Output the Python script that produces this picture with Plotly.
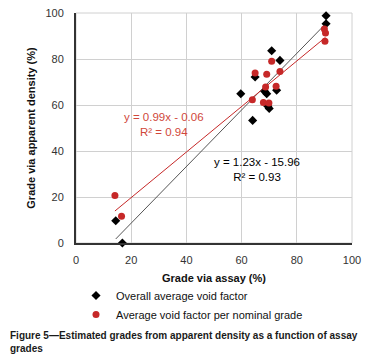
import plotly.graph_objects as go

# Overall average void factor (black diamonds)
black_x = [14.4, 16.8, 59.7, 64.0, 64.9, 68.4, 69.1, 69.5, 70.0, 70.9, 72.7, 73.9, 90.6, 90.6]
black_y = [9.7, 0.0, 64.9, 53.3, 72.2, 65.9, 64.9, 59.5, 58.5, 83.6, 66.4, 79.4, 98.8, 95.3]

# Average void factor per nominal grade (red circles)
red_x = [14.1, 16.5, 63.9, 64.9, 67.9, 68.7, 69.1, 69.9, 70.9, 72.5, 73.9, 90.0, 90.4, 90.2]
red_y = [20.7, 11.6, 62.3, 73.9, 61.1, 67.8, 73.4, 60.9, 79.0, 68.1, 74.6, 93.0, 91.3, 87.7]

# Trendline coefficients (slope, intercept) as printed on the chart
black_fit = (1.23, -15.96)
red_fit = (0.99, -0.06)
black_r2 = 0.93
red_r2 = 0.94

x_ticks = [0, 20, 40, 60, 80, 100]
y_ticks = [0, 20, 40, 60, 80, 100]

RED = "#C62828"
RED_TXT = "#D0473A"
FONT = "Liberation Sans"

fig = go.Figure()

def line_pts(xs, fit):
    x0, x1 = min(xs), max(xs)
    return [x0, x1], [fit[0] * x0 + fit[1], fit[0] * x1 + fit[1]]

bx, by = line_pts(black_x, black_fit)
rx, ry = line_pts(red_x, red_fit)

fig.add_trace(go.Scatter(x=bx, y=by, mode="lines", line=dict(color="#555555", width=1),
                         showlegend=False, hoverinfo="skip"))
fig.add_trace(go.Scatter(x=rx, y=ry, mode="lines", line=dict(color=RED, width=1),
                         showlegend=False, hoverinfo="skip"))

fig.add_trace(go.Scatter(x=black_x, y=black_y, mode="markers", name="Overall average void factor",
                         marker=dict(symbol="diamond", size=7, color="#000000"), cliponaxis=False))
fig.add_trace(go.Scatter(x=red_x, y=red_y, mode="markers", name="Average void factor per nominal grade",
                         marker=dict(symbol="circle", size=7, color=RED), cliponaxis=False))

fig.add_annotation(x=32, y=51.5, xref="x", yref="y", showarrow=False,
                   text=f"y = {red_fit[0]:.2f}x - {abs(red_fit[1]):.2f}<br>R² = {red_r2:.2f}",
                   font=dict(family=FONT, size=11.5, color=RED_TXT), align="center")
fig.add_annotation(x=65.5, y=32, xref="x", yref="y", showarrow=False,
                   text=f"y = {black_fit[0]:.2f}x - {abs(black_fit[1]):.2f}<br>R² = {black_r2:.2f}",
                   font=dict(family=FONT, size=11.5, color="#000000"), align="center")

fig.add_annotation(x=-0.2464, y=-0.37, xref="paper", yref="paper", xanchor="left", yanchor="top",
                   showarrow=False, align="left",
                   text="<b>Figure 5\u2014Estimated grades from apparent density as a function of assay<br>grades</b>",
                   font=dict(family=FONT, size=10, color="#1a1a1a"))

fig.update_xaxes(range=[0, 100], tickvals=x_ticks, showgrid=True, gridcolor="#d0d0d0", gridwidth=1,
                 showline=True, linecolor="#333333", linewidth=2, zeroline=False, mirror=False,
                 ticks="", ticklabelstandoff=6, ticklabeloverflow="allow",
                 tickfont=dict(family=FONT, size=11, color="#333333"),
                 title=dict(text="<b>Grade via assay (%)</b>", font=dict(family=FONT, size=11, color="#111111"),
                            standoff=9))
fig.update_yaxes(range=[0, 100], tickvals=y_ticks, showgrid=True, gridcolor="#d0d0d0", gridwidth=1,
                 showline=True, linecolor="#333333", linewidth=2, zeroline=False,
                 ticks="", ticklabelstandoff=8, ticklabeloverflow="allow",
                 tickfont=dict(family=FONT, size=11, color="#333333"),
                 title=dict(text="<b>Grade via apparent density (%)</b>", font=dict(family=FONT, size=11, color="#111111"),
                            standoff=8))

fig.update_layout(
    width=367, height=349,
    margin=dict(l=68, r=23, t=5, b=114, autoexpand=False),
    plot_bgcolor="white", paper_bgcolor="white",
    showlegend=True,
    legend=dict(x=0.0, y=-0.165, xanchor="left", yanchor="top", orientation="v",
                font=dict(family=FONT, size=11, color="#111111"),
                bgcolor="rgba(0,0,0,0)", itemwidth=30, tracegroupgap=0),
    shapes=[dict(type="rect", xref="paper", yref="paper", x0=0, x1=1, y0=0, y1=1,
                 line=dict(color="#d0d0d0", width=1), layer="below")],
)

fig.write_html("out.html")
